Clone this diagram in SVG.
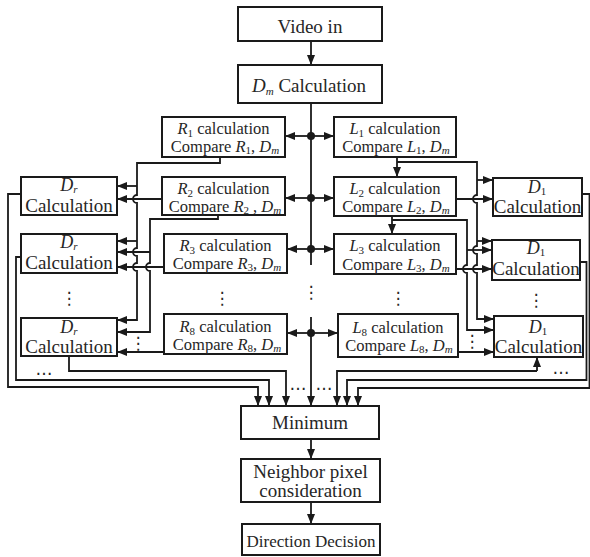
<svg xmlns="http://www.w3.org/2000/svg" width="590" height="557" viewBox="0 0 590 557">
<style>
.box{fill:#fff;stroke:#1a1a1a;stroke-width:2}
.ln{fill:none;stroke:#1a1a1a;stroke-width:1.8}
.a{marker-end:url(#arr)}
.t{fill:#262626;text-anchor:middle}
.f19{font-size:19px}
.f18{font-size:18px}
.f17{font-size:17px}
.f16{font-size:16.5px}
.i{font-style:italic}
.sub{font-size:11px}
.dot{font-size:17px;fill:#262626;text-anchor:middle}
</style>
<defs>
<marker id="arr" markerWidth="10" markerHeight="8" refX="10" refY="4" orient="auto" markerUnits="userSpaceOnUse">
<path d="M0,0 L10,4 L0,8 z" fill="#1a1a1a"/>
</marker>
</defs>

<g id="connectors">
<path class="ln a" d="M311,41 V65"/>
<path class="ln" d="M311,103 V265"/>
<path class="ln a" d="M311,317 V406"/>
<path class="ln a" d="M311,136 H285"/><path class="ln a" d="M311,136 H334"/>
<path class="ln a" d="M311,198 H285"/><path class="ln a" d="M311,198 H334"/>
<path class="ln a" d="M311,249 H287"/><path class="ln a" d="M311,249 H334"/>
<path class="ln a" d="M311,333 H287"/><path class="ln a" d="M311,333 H338"/>
<circle cx="311" cy="136" r="4" fill="#1a1a1a"/>
<circle cx="311" cy="198" r="4" fill="#1a1a1a"/>
<circle cx="311" cy="249" r="4" fill="#1a1a1a"/>
<circle cx="311" cy="333" r="4" fill="#1a1a1a"/>

<path class="ln a" d="M220,157 V163 H137 V195 A4,4 0 0 0 137,203 V248 A4,4 0 0 0 137,256 V263 A4,4 0 0 0 137,271 V320 H117"/>
<path class="ln a" d="M137,186 H117"/>
<path class="ln a" d="M137,241 H117"/>
<path class="ln a" d="M162,199 H117"/>
<path class="ln a" d="M218,215 V219 H150 V263 A4,4 0 0 0 150,271 V332 H117"/>
<path class="ln a" d="M150,252 H117"/>
<path class="ln a" d="M164,267 H117"/>
<path class="ln a" d="M164,352 H117"/>

<path class="ln a" d="M397,157 V177"/>
<path class="ln a" d="M397,162 H477 V195 A4,4 0 0 0 477,203 V246 A4,4 0 0 0 477,254 V265 A4,4 0 0 0 477,273 V319 H494"/>
<path class="ln a" d="M477,180 H493"/>
<path class="ln a" d="M477,241 H492"/>
<path class="ln a" d="M456,199 H493"/>
<path class="ln a" d="M392,216 V234"/>
<path class="ln a" d="M392,220 H467 V265 A4,4 0 0 0 467,273 V330 H494"/>
<path class="ln a" d="M467,250 H492"/>
<path class="ln a" d="M456,269 H492"/>
<path class="ln a" d="M458,352 H494"/>

<path class="ln a" d="M21,194 H8 V387 H258 V406"/>
<path class="ln a" d="M21,257 H16 V380 H269 V406"/>
<path class="ln a" d="M69,356 V371 H286 V406"/>
<path class="ln a" d="M582,194 H589.5 V388 H358 V406"/>
<path class="ln a" d="M580,262 H586.5 V380 H347 V406"/>
<path class="ln a" d="M537,371 H337 V406"/>
<path class="ln a" d="M537,371 V357"/>

<path class="ln a" d="M311,439 V459"/>
<path class="ln a" d="M311,502 V524"/>

<g font-family="'DejaVu Sans', sans-serif">
<text class="dot" x="311" y="298">⋮</text>
<text class="dot" x="222" y="304">⋮</text>
<text class="dot" x="398" y="304">⋮</text>
<text class="dot" x="69" y="304">⋮</text>
<text class="dot" x="536" y="306">⋮</text>
<text class="dot" x="138" y="349">⋮</text>
<text class="dot" x="472" y="347">⋮</text>
<text class="dot" x="44" y="375">…</text>
<text class="dot" x="561" y="374">…</text>
<text class="dot" x="298" y="390">…</text>
<text class="dot" x="324" y="390">…</text>
</g>
</g>

<g font-family="'Liberation Serif', 'Times New Roman', serif">
<g id="video"><rect class="box" x="238" y="7" width="144" height="34"/><text class="t f19" x="310" y="33">Video in</text></g>
<g id="dm"><rect class="box" x="238" y="65" width="144" height="38"/><text class="t f19" x="309" y="92"><tspan class="i">D</tspan><tspan class="sub i" dy="3">m</tspan><tspan dy="-3"> Calculation</tspan></text></g>

<g id="r1"><rect class="box" x="162" y="117" width="123" height="40"/>
<text class="t f16" x="223.5" y="134"><tspan class="i">R</tspan><tspan class="sub" dy="3">1</tspan><tspan dy="-3"> calculation</tspan></text>
<text class="t f16" x="225" y="152">Compare <tspan class="i">R</tspan><tspan class="sub" dy="2">1</tspan><tspan dy="-2">, </tspan><tspan class="i">D</tspan><tspan class="sub i" dy="2">m</tspan></text></g>
<g id="r2"><rect class="box" x="162" y="177" width="123" height="38"/>
<text class="t f16" x="223.5" y="194"><tspan class="i">R</tspan><tspan class="sub" dy="3">2</tspan><tspan dy="-3"> calculation</tspan></text>
<text class="t f16" x="225" y="212">Compare <tspan class="i">R</tspan><tspan class="sub" dy="2">2</tspan><tspan dy="-2"> , </tspan><tspan class="i">D</tspan><tspan class="sub i" dy="2">m</tspan></text></g>
<g id="r3"><rect class="box" x="164" y="234" width="123" height="39"/>
<text class="t f16" x="225.5" y="251"><tspan class="i">R</tspan><tspan class="sub" dy="3">3</tspan><tspan dy="-3"> calculation</tspan></text>
<text class="t f16" x="227" y="269">Compare <tspan class="i">R</tspan><tspan class="sub" dy="2">3</tspan><tspan dy="-2">, </tspan><tspan class="i">D</tspan><tspan class="sub i" dy="2">m</tspan></text></g>
<g id="r8"><rect class="box" x="164" y="314" width="123" height="40"/>
<text class="t f16" x="225.5" y="332"><tspan class="i">R</tspan><tspan class="sub" dy="3">8</tspan><tspan dy="-3"> calculation</tspan></text>
<text class="t f16" x="227" y="350">Compare <tspan class="i">R</tspan><tspan class="sub" dy="2">8</tspan><tspan dy="-2">, </tspan><tspan class="i">D</tspan><tspan class="sub i" dy="2">m</tspan></text></g>

<g id="l1"><rect class="box" x="334" y="117" width="122" height="40"/>
<text class="t f16" x="395" y="134"><tspan class="i">L</tspan><tspan class="sub" dy="3">1</tspan><tspan dy="-3"> calculation</tspan></text>
<text class="t f16" x="396" y="152">Compare <tspan class="i">L</tspan><tspan class="sub" dy="2">1</tspan><tspan dy="-2">, </tspan><tspan class="i">D</tspan><tspan class="sub i" dy="2">m</tspan></text></g>
<g id="l2"><rect class="box" x="334" y="177" width="122" height="39"/>
<text class="t f16" x="395" y="194"><tspan class="i">L</tspan><tspan class="sub" dy="3">2</tspan><tspan dy="-3"> calculation</tspan></text>
<text class="t f16" x="396" y="212">Compare <tspan class="i">L</tspan><tspan class="sub" dy="2">2</tspan><tspan dy="-2">, </tspan><tspan class="i">D</tspan><tspan class="sub i" dy="2">m</tspan></text></g>
<g id="l3"><rect class="box" x="334" y="234" width="122" height="40"/>
<text class="t f16" x="395" y="251"><tspan class="i">L</tspan><tspan class="sub" dy="3">3</tspan><tspan dy="-3"> calculation</tspan></text>
<text class="t f16" x="396" y="270">Compare <tspan class="i">L</tspan><tspan class="sub" dy="2">3</tspan><tspan dy="-2">, </tspan><tspan class="i">D</tspan><tspan class="sub i" dy="2">m</tspan></text></g>
<g id="l8"><rect class="box" x="338" y="314" width="120" height="43"/>
<text class="t f16" x="398" y="333"><tspan class="i">L</tspan><tspan class="sub" dy="3">8</tspan><tspan dy="-3"> calculation</tspan></text>
<text class="t f16" x="399" y="351">Compare <tspan class="i">L</tspan><tspan class="sub" dy="2">8</tspan><tspan dy="-2">, </tspan><tspan class="i">D</tspan><tspan class="sub i" dy="2">m</tspan></text></g>

<g id="dr1"><rect class="box" x="21" y="177" width="96" height="38"/>
<text class="t f18" x="69" y="191"><tspan class="i">D</tspan><tspan class="sub i" dy="2">r</tspan></text>
<text class="t f19" x="69" y="212">Calculation</text></g>
<g id="dr2"><rect class="box" x="21" y="234" width="96" height="39"/>
<text class="t f18" x="69" y="248"><tspan class="i">D</tspan><tspan class="sub i" dy="2">r</tspan></text>
<text class="t f19" x="69" y="269">Calculation</text></g>
<g id="dr3"><rect class="box" x="21" y="318" width="96" height="38"/>
<text class="t f18" x="69" y="333"><tspan class="i">D</tspan><tspan class="sub i" dy="2">r</tspan></text>
<text class="t f19" x="69" y="353">Calculation</text></g>

<g id="d1a"><rect class="box" x="493" y="178" width="89" height="38"/>
<text class="t f18" x="537" y="193"><tspan class="i">D</tspan><tspan class="sub" dy="2">1</tspan></text>
<text class="t f19" x="537.5" y="213">Calculation</text></g>
<g id="d1b"><rect class="box" x="492" y="240" width="88" height="40"/>
<text class="t f18" x="536" y="254"><tspan class="i">D</tspan><tspan class="sub" dy="2">1</tspan></text>
<text class="t f19" x="536" y="275">Calculation</text></g>
<g id="d1c"><rect class="box" x="494" y="316" width="89" height="41"/>
<text class="t f18" x="538" y="333"><tspan class="i">D</tspan><tspan class="sub" dy="2">1</tspan></text>
<text class="t f19" x="538.5" y="353">Calculation</text></g>

<g id="minimum"><rect class="box" x="241" y="406" width="138" height="33"/><text class="t f19" x="310" y="429">Minimum</text></g>
<g id="neighbor"><rect class="box" x="241" y="459" width="139" height="43"/><text class="t f19" x="310.5" y="478">Neighbor pixel</text><text class="t f19" x="310.5" y="497">consideration</text></g>
<g id="direction"><rect class="box" x="242" y="524" width="138" height="31"/><text class="t f17" x="311" y="547">Direction Decision</text></g>
</g>
</svg>
